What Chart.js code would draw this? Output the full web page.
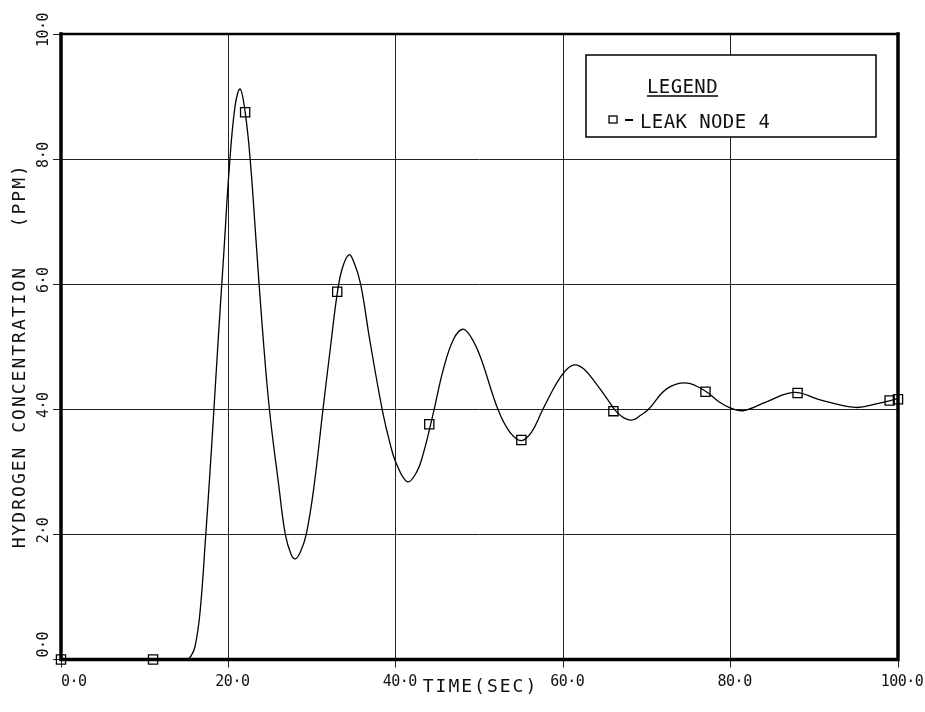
<!DOCTYPE html>
<html><head><meta charset="utf-8">
<script src="https://cdn.jsdelivr.net/npm/chart.js@4.4.1/dist/chart.umd.min.js"></script>
<style>html,body{margin:0;padding:0;background:#fff;}canvas{display:block;}</style>
</head><body>
<canvas id="c" width="925" height="712"></canvas>
<script>
// ---- data ----
const curveTime = [0,10,15.0,15.5,16.0,16.6,17.3,17.8,18.2,18.8,19.5,20.1,20.8,21.4,22.0,22.6,23.3,24.0,24.9,26.0,26.8,27.5,28.0,28.6,29.3,30.2,31.3,32.2,33.0,33.6,34.4,35.0,35.8,36.9,38.4,39.3,40.1,41.4,42.5,43.3,44.5,45.7,46.9,48.0,49.0,50.1,52.2,53.6,55.0,56.2,57.5,58.8,59.6,60.5,61.4,62.5,64.0,65.6,66.3,67.3,68.3,69.2,70.2,72.4,74.8,77.1,78.6,80.0,81.6,84.3,87.6,90.7,94.9,97.5,100];
const curveConc = [0,0,0,0.05,0.2,0.74,2.0,3.0,3.85,5.15,6.6,7.85,8.85,9.12,8.75,8.0,6.7,5.4,4.0,2.8,2.0,1.68,1.61,1.72,2.0,2.74,4.0,5.0,5.85,6.25,6.47,6.35,6.0,5.1,3.98,3.46,3.12,2.84,3.0,3.3,3.95,4.65,5.12,5.28,5.15,4.84,4.0,3.64,3.5,3.63,3.98,4.32,4.5,4.65,4.71,4.64,4.4,4.1,3.97,3.86,3.83,3.9,4.0,4.33,4.42,4.28,4.12,4.02,3.98,4.12,4.27,4.15,4.03,4.09,4.17];
const markerTime = [0,11,22,33,44,55,66,77,88,99,100];
const markerConc = [0,0,8.75,5.88,3.76,3.51,3.97,4.28,4.26,4.14,4.16];
const xTickValues = [0,20,40,60,80,100];
const xTickLabels = ['0·0','20·0','40·0','60·0','80·0','100·0'];
const yTickValues = [0,2,4,6,8,10];
const yTickLabels = ['0·0','2·0','4·0','6·0','8·0','10·0'];
const xTitle = 'TIME(SEC)';
const yTitle = 'HYDROGEN CONCENTRATION   (PPM)';
const legendTitle = 'LEGEND';
const seriesName = 'LEAK NODE 4';

const FONT = '"DejaVu Sans Mono", "Liberation Mono", monospace';

const plotter = {
  id: 'plotter',
  afterDraw(chart) {
    const {ctx, chartArea: a, scales: {x, y}} = chart;
    ctx.save();
    // frame
    ctx.strokeStyle = '#000';
    ctx.lineCap = 'square';
    ctx.lineWidth = 3.5;
    ctx.beginPath();
    ctx.moveTo(a.left, a.top); ctx.lineTo(a.left, a.bottom);
    ctx.lineTo(a.right, a.bottom); ctx.lineTo(a.right, a.top);
    ctx.stroke();
    ctx.lineWidth = 2.5;
    ctx.beginPath(); ctx.moveTo(a.left, a.top); ctx.lineTo(a.right, a.top); ctx.stroke();

    ctx.fillStyle = '#111';
    // x tick labels
    ctx.font = '15px ' + FONT;
    ctx.letterSpacing = '-0.5px';
    ctx.textBaseline = 'alphabetic';
    xTickValues.forEach((v, i) => {
      const px = x.getPixelForValue(v);
      if (i === 0) { ctx.textAlign = 'left'; ctx.fillText(xTickLabels[i], px, a.bottom + 26); }
      else { ctx.textAlign = 'center'; ctx.fillText(xTickLabels[i], px + 4, a.bottom + 26); }
    });
    // y tick labels (rotated)
    yTickValues.forEach((v, i) => {
      const py = y.getPixelForValue(v);
      ctx.save();
      ctx.translate(a.left - 13, py);
      ctx.rotate(-Math.PI / 2);
      if (i === 0) { ctx.textAlign = 'left'; ctx.fillText(yTickLabels[i], 2, 0); }
      else { ctx.textAlign = 'center'; ctx.fillText(yTickLabels[i], 4, 0); }
      ctx.restore();
    });
    // axis titles
    ctx.font = '18px ' + FONT;
    ctx.letterSpacing = '2px';
    ctx.textAlign = 'center';
    ctx.fillText(xTitle, (a.left + a.right) / 2 + 1, a.bottom + 32);
    ctx.save();
    ctx.translate(25, (a.top + a.bottom) / 2 + 9);
    ctx.rotate(-Math.PI / 2);
    ctx.fillText(yTitle, 0, 0);
    ctx.restore();

    // legend box
    const bx = a.right - 312, by = a.top + 21, bw = 290, bh = 82;
    ctx.fillStyle = '#fff';
    ctx.fillRect(bx, by, bw, bh);
    ctx.strokeStyle = '#000';
    ctx.lineWidth = 1.5;
    ctx.lineCap = 'butt';
    ctx.strokeRect(bx, by, bw, bh);
    ctx.fillStyle = '#111';
    ctx.font = '19px ' + FONT;
    ctx.letterSpacing = '0.4px';
    ctx.textAlign = 'left';
    ctx.fillText(legendTitle, bx + 61, by + 38);
    const w = ctx.measureText(legendTitle).width;
    ctx.lineWidth = 1.5;
    ctx.beginPath(); ctx.moveTo(bx + 61, by + 41); ctx.lineTo(bx + 61 + w, by + 41); ctx.stroke();
    // marker sample
    ctx.lineWidth = 1.3;
    ctx.strokeRect(bx + 23, by + 61, 8, 7);
    ctx.lineWidth = 2;
    ctx.beginPath(); ctx.moveTo(bx + 39, by + 65); ctx.lineTo(bx + 47, by + 65); ctx.stroke();
    ctx.fillText(seriesName, bx + 54, by + 73);
    ctx.restore();
  }
};

new Chart(document.getElementById('c'), {
  type: 'line',
  data: {
    datasets: [
      {
        label: seriesName + ' curve',
        data: curveTime.map((t, i) => ({x: t, y: curveConc[i]})),
        borderColor: '#000', borderWidth: 1.3, pointRadius: 0,
        tension: 0.4, fill: false, clip: false
      },
      {
        label: seriesName,
        data: markerTime.map((t, i) => ({x: t, y: markerConc[i]})),
        showLine: false, pointStyle: 'rect', pointRadius: 6.5,
        pointBorderColor: '#000', pointBorderWidth: 1.3,
        pointBackgroundColor: 'rgba(0,0,0,0)', clip: false
      }
    ]
  },
  options: {
    responsive: false, animation: false, devicePixelRatio: 1,
    layout: {padding: {top: 34, right: 27, left: 0, bottom: 0}},
    plugins: {legend: {display: false}, tooltip: {enabled: false}},
    scales: {
      x: {
        type: 'linear', min: 0, max: 100,
        ticks: {stepSize: 20, display: false},
        grid: {color: '#222', lineWidth: 1, tickLength: 8, drawTicks: true},
        border: {display: false},
        afterFit: s => { s.height = 52.5; }
      },
      y: {
        type: 'linear', min: 0, max: 10,
        ticks: {stepSize: 2, display: false},
        grid: {color: '#222', lineWidth: 1, tickLength: 8, drawTicks: true},
        border: {display: false},
        afterFit: s => { s.width = 61; }
      }
    }
  },
  plugins: [plotter]
});
</script>
</body></html>
